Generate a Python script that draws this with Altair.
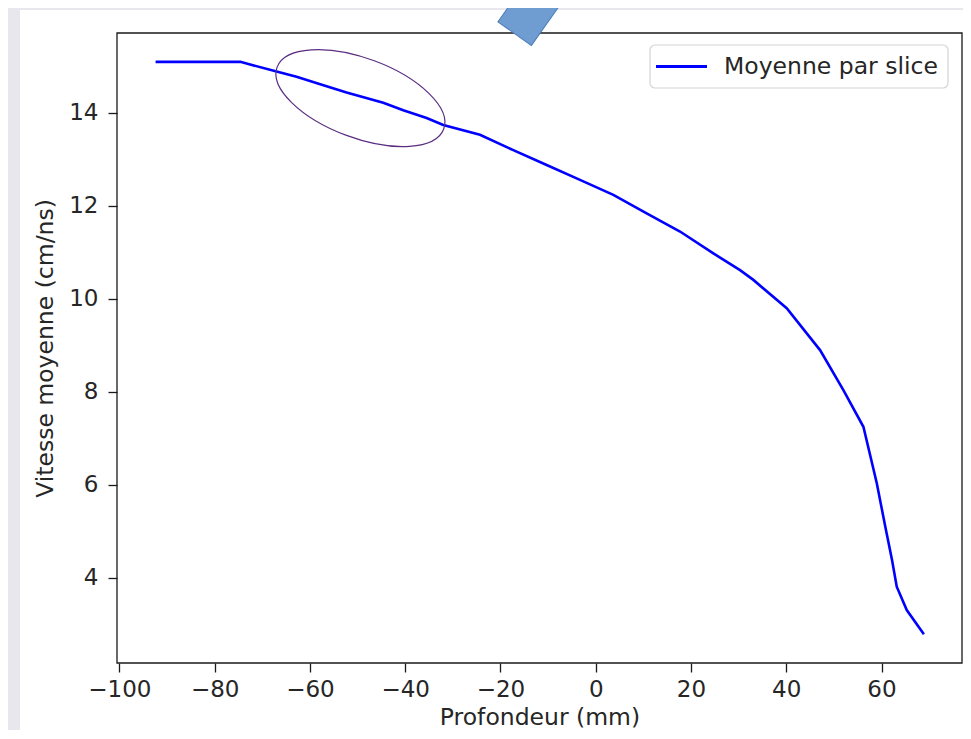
import altair as alt
import pandas as pd

# ---------------- data ----------------
profondeur_mm = [-92.4, -74.6, -67.0, -62.8, -58.5, -52.3, -44.6, -40.4, -35.5, -32.0,
                 -24.3, -17.3, -10.3, -3.3, 3.7, 10.7, 17.7, 24.7, 30.3, 33.1,
                 40.1, 47.1, 52.0, 56.2, 59.0, 60.8, 62.2, 63.2, 65.3, 68.9]
vitesse_cm_ns = [15.10, 15.10, 14.89, 14.78, 14.64, 14.44, 14.22, 14.06, 13.89, 13.74,
                 13.53, 13.20, 12.88, 12.56, 12.24, 11.84, 11.45, 10.98, 10.62, 10.41,
                 9.80, 8.90, 8.04, 7.25, 6.04, 5.10, 4.39, 3.81, 3.31, 2.79]
series_name = ["Moyenne par slice"]
x_ticks = [-100, -80, -60, -40, -20, 0, 20, 40, 60]
y_ticks = [4, 6, 8, 10, 12, 14]
x_domain = [-100.5, 76.9]
y_domain = [2.17, 15.72]
x_title = "Profondeur (mm)"
y_title = "Vitesse moyenne (cm/ns)"
ellipse_center_x = [-49.4]
ellipse_center_y = [14.32]

# ---------------- layout / style ----------------
W, H = 845, 630
FONT = "DejaVu Sans"
TXT = "#262626"
BLUE = "#0000ff"
GRAY = "#e7e7ed"

df = pd.DataFrame({"x": profondeur_mm, "y": vitesse_cm_ns})
one = pd.DataFrame({"s": series_name})
ell = pd.DataFrame({"x": ellipse_center_x, "y": ellipse_center_y})

xscale = alt.Scale(domain=x_domain, nice=False, zero=False)
yscale = alt.Scale(domain=y_domain, nice=False, zero=False)

xaxis = alt.Axis(values=x_ticks, title=x_title, format="d",
                 labelExpr="replace(datum.label, '-', '\u2212')",
                 labelPadding=6, labelFlush=False, labelOverlap=False,
                 titleY=54, titleBaseline="middle", titleX=W / 2)
yaxis = alt.Axis(values=y_ticks, title=y_title, format="d",
                 labelPadding=10, labelFlush=False, labelOverlap=False,
                 titleX=-72, titleY=H / 2, titleBaseline="middle",
                 titleAngle=270)

# gray surround of the screenshot (left band and thin top band)
band_left = alt.Chart(one).mark_rect(fill=GRAY).encode(
    x=alt.value(-110), x2=alt.value(-97), y=alt.value(-26), y2=alt.value(H + 70)
)
band_top = alt.Chart(one).mark_rect(fill=GRAY).encode(
    x=alt.value(-110), x2=alt.value(W + 10), y=alt.value(-26), y2=alt.value(-23)
)

line = alt.Chart(df).mark_line(color=BLUE, strokeWidth=2.6).encode(
    x=alt.X("x:Q", scale=xscale, axis=xaxis),
    y=alt.Y("y:Q", scale=yscale, axis=yaxis),
)

k = 0.5523
r = 0.448
kr = k * r
ELLIPSE = (f"M -1 0 C -1 {-kr:.4f} {-k} {-r} 0 {-r} C {k} {-r} 1 {-kr:.4f} 1 0 "
           f"C 1 {kr:.4f} {k} {r} 0 {r} C {-k} {r} -1 {kr:.4f} -1 0 Z")

ellipse = alt.Chart(ell).mark_point(
    shape=ELLIPSE, size=31600, angle=20.4, filled=False, color="#5a2d82",
    strokeWidth=1.2, opacity=1
).encode(
    x=alt.X("x:Q", scale=xscale, axis=xaxis),
    y=alt.Y("y:Q", scale=yscale, axis=yaxis),
)

frame = alt.Chart(one).mark_rect(fillOpacity=0, stroke="#1a1a1a", strokeWidth=1.3).encode(
    x=alt.value(0), x2=alt.value(W), y=alt.value(0), y2=alt.value(H)
)

leg_box = alt.Chart(one).mark_rect(
    fill="white", stroke="#d4d4d4", strokeWidth=1.2, cornerRadius=5
).encode(x=alt.value(533), x2=alt.value(831), y=alt.value(12), y2=alt.value(55))
leg_line = alt.Chart(one).mark_rule(color=BLUE, strokeWidth=2.8).encode(
    x=alt.value(539), x2=alt.value(590), y=alt.value(33.5)
)
leg_text = alt.Chart(one).mark_text(
    align="left", baseline="middle", font=FONT, fontSize=23.5, color=TXT
).encode(x=alt.value(607), y=alt.value(34), text="s:N")

RECT = "M -0.5125 -1 L 0.5125 -1 L 0.5125 1 L -0.5125 1 Z"
arrow = alt.Chart(one).mark_point(
    shape=RECT, size=6400, angle=35.2, filled=True, fill="#6f9dd2",
    stroke="#4a7cb8", strokeWidth=1, opacity=1
).encode(x=alt.value(420.7), y=alt.value(-32))

chart = alt.layer(band_left, band_top, line, ellipse, frame, leg_box, leg_line, leg_text, arrow).properties(
    width=W, height=H,
    autosize=alt.AutoSizeParams(type="none"),
    padding={"left": 109, "top": 25, "right": 1, "bottom": 67},
    background="white",
).configure_axis(
    labelFont=FONT, labelFontSize=23, labelColor=TXT,
    titleFont=FONT, titleFontSize=23.5, titleFontWeight="normal", titleColor=TXT,
    tickColor="#1a1a1a", tickSize=9, tickWidth=1.3,
    domain=False, grid=False,
).configure_view(stroke=None)

chart.save("out.html", embed_options={"renderer": "svg", "actions": False})
